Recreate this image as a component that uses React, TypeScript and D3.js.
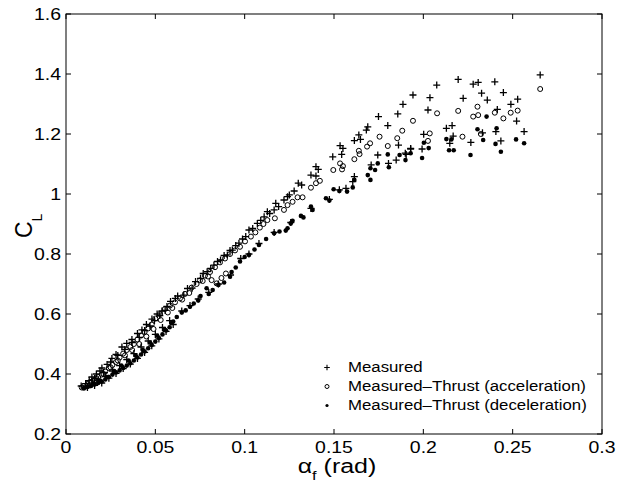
import * as d3 from 'd3';

// alpha_f (rad), C_L
const measured: [number, number][] = [
  [0.0085, 0.36], [0.011, 0.368], [0.013, 0.378], [0.0145, 0.39], [0.017, 0.4],
  [0.019, 0.41], [0.0201, 0.42], [0.023, 0.432], [0.0257, 0.452], [0.028, 0.465],
  [0.0313, 0.49], [0.034, 0.502], [0.0369, 0.515], [0.04, 0.535], [0.0425, 0.547],
  [0.045, 0.565], [0.0481, 0.583], [0.051, 0.6], [0.0537, 0.61], [0.0565, 0.625],
  [0.0612, 0.652], [0.0659, 0.663], [0.0706, 0.686], [0.0753, 0.719], [0.079, 0.741],
  [0.0828, 0.763], [0.0865, 0.78], [0.0903, 0.797], [0.0931, 0.813], [0.0968, 0.836],
  [0.1006, 0.858], [0.1024, 0.88], [0.1071, 0.902], [0.1109, 0.924], [0.1127, 0.941],
  [0.1165, 0.947], [0.1174, 0.969], [0.122, 0.98], [0.124, 0.991], [0.125, 0.997],
  [0.0585, 0.642], [0.0625, 0.66], [0.068, 0.685], [0.0725, 0.708], [0.0768, 0.735],
  [0.081, 0.752], [0.0848, 0.775], [0.0885, 0.795], [0.0918, 0.812], [0.095, 0.828],
  [0.0988, 0.85], [0.1045, 0.885], [0.109, 0.912], [0.114, 0.935], [0.119, 0.958],
  [0.1277, 1.01], [0.13, 1.036], [0.1319, 1.03], [0.1371, 1.063], [0.1399, 1.06],
  [0.1399, 1.091], [0.1412, 1.082], [0.1493, 1.124], [0.1543, 1.132], [0.1534, 1.161],
  [0.155, 1.152], [0.1614, 1.178], [0.1648, 1.182], [0.1639, 1.197], [0.1681, 1.213],
  [0.1689, 1.224], [0.1749, 1.258], [0.1801, 1.228], [0.1857, 1.267],
  [0.1861, 1.163], [0.1745, 1.13], [0.1929, 1.15], [0.1899, 1.136], [0.1848, 1.113],
  [0.1805, 1.102], [0.1708, 1.097], [0.1614, 1.058], [0.1605, 1.041], [0.1567, 1.019],
  [0.2654, 1.397], [0.2195, 1.382], [0.2307, 1.372], [0.2279, 1.366], [0.24, 1.374],
  [0.2075, 1.363], [0.1942, 1.33], [0.2326, 1.336], [0.2448, 1.338], [0.2037, 1.321],
  [0.2223, 1.319], [0.2358, 1.313], [0.1886, 1.299], [0.2528, 1.316], [0.249, 1.299],
  [0.2026, 1.28], [0.2414, 1.282], [0.2522, 1.243], [0.2129, 1.219], [0.2161, 1.228],
  [0.2002, 1.199], [0.2564, 1.208], [0.2167, 1.193], [0.2331, 1.204], [0.2406, 1.208],
  [0.2266, 1.172], [0.2434, 1.177], [0.2148, 1.169], [0.1929, 1.152], [0.1993, 1.15],
  [0.1904, 1.132],
  [0.012, 0.355], [0.016, 0.362], [0.02, 0.37], [0.024, 0.386], [0.028, 0.402],
  [0.032, 0.418], [0.036, 0.433], [0.04, 0.452], [0.044, 0.472], [0.048, 0.494],
  [0.052, 0.517], [0.056, 0.542], [0.06, 0.565], [0.0648, 0.61], [0.0694, 0.628],
  [0.074, 0.65], [0.0799, 0.672], [0.0853, 0.7], [0.0921, 0.73], [0.0978, 0.785],
  [0.1024, 0.8], [0.108, 0.835], [0.1165, 0.872], [0.1258, 0.905], [0.1371, 0.952],
  [0.1474, 0.982], [0.153, 1.014],
  [0.015, 0.37], [0.018, 0.38], [0.022, 0.392], [0.026, 0.41], [0.03, 0.428],
  [0.034, 0.448], [0.038, 0.468], [0.042, 0.49], [0.046, 0.51], [0.05, 0.532],
  [0.054, 0.555], [0.058, 0.578],
  [0.016, 0.385], [0.021, 0.405], [0.025, 0.44], [0.029, 0.462], [0.033, 0.482],
  [0.037, 0.505], [0.041, 0.522], [0.044, 0.545], [0.047, 0.56], [0.0495, 0.578],
  [0.0525, 0.595], [0.0555, 0.612],
];

const acceleration: [number, number][] = [
  [0.0088, 0.355], [0.01, 0.36], [0.012, 0.366], [0.014, 0.374], [0.016, 0.38],
  [0.018, 0.39], [0.02, 0.398], [0.022, 0.408], [0.024, 0.42], [0.026, 0.43],
  [0.028, 0.44], [0.03, 0.455], [0.032, 0.468], [0.034, 0.48], [0.036, 0.49],
  [0.038, 0.5], [0.04, 0.515], [0.042, 0.528], [0.044, 0.54], [0.046, 0.552],
  [0.048, 0.565], [0.05, 0.585], [0.0526, 0.6], [0.0554, 0.617], [0.0582, 0.628],
  [0.061, 0.639], [0.0638, 0.652], [0.0666, 0.667], [0.0703, 0.688], [0.0731, 0.7],
  [0.075, 0.712], [0.0778, 0.728], [0.0806, 0.74], [0.0834, 0.756], [0.0862, 0.772],
  [0.089, 0.785], [0.0918, 0.8], [0.0946, 0.812], [0.0974, 0.824], [0.1002, 0.842],
  [0.0815, 0.713], [0.0843, 0.702], [0.087, 0.72], [0.0895, 0.735],
  [0.013, 0.372], [0.017, 0.386], [0.021, 0.4], [0.025, 0.422], [0.029, 0.445],
  [0.033, 0.462], [0.037, 0.48], [0.041, 0.5], [0.045, 0.525], [0.049, 0.55],
  [0.053, 0.58], [0.057, 0.605], [0.0595, 0.62], [0.065, 0.648], [0.069, 0.67],
  [0.0765, 0.71], [0.0795, 0.725],
  [0.1035, 0.858], [0.106, 0.872], [0.1085, 0.888], [0.1105, 0.9],
  [0.1127, 0.913], [0.1169, 0.919], [0.122, 0.947], [0.124, 0.963], [0.1268, 0.974],
  [0.1296, 0.989], [0.1324, 0.989], [0.1371, 1.021], [0.1399, 1.036], [0.1421, 1.044],
  [0.1496, 1.08], [0.1545, 1.082], [0.155, 1.093], [0.1534, 1.102], [0.1614, 1.116],
  [0.1643, 1.133], [0.1639, 1.144], [0.1685, 1.158], [0.1702, 1.169], [0.1801, 1.16],
  [0.1755, 1.191], [0.1854, 1.186], [0.1882, 1.211], [0.1942, 1.244],
  [0.2654, 1.35], [0.2077, 1.269], [0.2195, 1.277], [0.2303, 1.291], [0.2279, 1.258],
  [0.2307, 1.263], [0.24, 1.271], [0.2489, 1.271], [0.2528, 1.278], [0.2448, 1.252],
  [0.2036, 1.202], [0.2219, 1.191], [0.2322, 1.2], [0.2026, 1.177],
];

const deceleration: [number, number][] = [
  [0.01, 0.352], [0.012, 0.357], [0.014, 0.36], [0.016, 0.365], [0.018, 0.37],
  [0.02, 0.375], [0.022, 0.382], [0.024, 0.39], [0.026, 0.398], [0.028, 0.405],
  [0.03, 0.412], [0.032, 0.42], [0.034, 0.428], [0.036, 0.436], [0.038, 0.445],
  [0.04, 0.455], [0.042, 0.465], [0.044, 0.475], [0.046, 0.486], [0.048, 0.497],
  [0.05, 0.508], [0.052, 0.52], [0.054, 0.532], [0.056, 0.545], [0.058, 0.556],
  [0.011, 0.356], [0.015, 0.366], [0.019, 0.378], [0.023, 0.39], [0.027, 0.41],
  [0.031, 0.428], [0.035, 0.445], [0.039, 0.462], [0.043, 0.48], [0.047, 0.505],
  [0.051, 0.528], [0.055, 0.55], [0.059, 0.57], [0.062, 0.59], [0.067, 0.612],
  [0.0715, 0.635],
  [0.06, 0.575], [0.0648, 0.605], [0.0694, 0.624], [0.074, 0.645], [0.0753, 0.66],
  [0.0799, 0.667], [0.0787, 0.686], [0.0853, 0.697], [0.0821, 0.68], [0.0885, 0.705],
  [0.0918, 0.724], [0.0927, 0.74], [0.095, 0.755], [0.0974, 0.775], [0.1, 0.79],
  [0.1024, 0.797], [0.1055, 0.815], [0.108, 0.83], [0.112, 0.85], [0.1165, 0.869],
  [0.1195, 0.875], [0.123, 0.878], [0.1258, 0.902],
  [0.124, 0.886], [0.1268, 0.911], [0.1315, 0.927], [0.1329, 0.922], [0.1371, 0.958],
  [0.138, 0.947], [0.1455, 0.986], [0.1474, 0.978], [0.1498, 1.016], [0.153, 1.01],
  [0.1573, 1.008], [0.1605, 1.022], [0.1614, 1.047], [0.1689, 1.063], [0.1704, 1.047],
  [0.1704, 1.086], [0.173, 1.08], [0.1745, 1.102], [0.1807, 1.089], [0.1801, 1.132],
  [0.1867, 1.13], [0.1929, 1.136], [0.19, 1.113],
  [0.2354, 1.258], [0.2303, 1.216], [0.241, 1.219], [0.2129, 1.183], [0.2157, 1.182],
  [0.2335, 1.18], [0.2519, 1.182], [0.2564, 1.169], [0.2404, 1.167], [0.2003, 1.171],
  [0.203, 1.153], [0.2144, 1.146], [0.217, 1.146], [0.2434, 1.141], [0.2264, 1.13],
  [0.1993, 1.12],
];

const xTicks = [0, 0.05, 0.1, 0.15, 0.2, 0.25, 0.3];
const yTicks = [0.2, 0.4, 0.6, 0.8, 1, 1.2, 1.4, 1.6];
const legendLabels = [
  'Measured',
  'Measured\u2013Thrust (acceleration)',
  'Measured\u2013Thrust (deceleration)',
];

const font = 'Liberation Sans, Arial, Helvetica, sans-serif';

function Plus({ cx, cy, s = 3.5, w = 1.3 }: { cx: number; cy: number; s?: number; w?: number }) {
  return (
    <path
      d={`M${cx - s},${cy}H${cx + s}M${cx},${cy - s}V${cy + s}`}
      stroke="#000"
      strokeWidth={w}
      fill="none"
    />
  );
}

export default function App({
  width = 622,
  height = 484,
  marginTop = 14,
  marginRight = 20,
  marginBottom = 50,
  marginLeft = 66,
}) {
  const x = d3.scaleLinear([0, 0.3], [marginLeft, width - marginRight]);
  const y = d3.scaleLinear([0.2, 1.6], [height - marginBottom, marginTop]);
  const fmt = d3.format('~g');
  const x0 = x(0), x1 = x(0.3), y0 = y(0.2), y1 = y(1.6);
  const tick = 5;

  return (
    <svg
      width={width}
      height={height}
      style={{ position: 'absolute', left: 0, top: 0, background: '#fff' }}
      fontFamily={font}
    >
      {/* data */}
      <g>
        {acceleration.map((d, i) => (
          <circle key={i} cx={x(d[0])} cy={y(d[1])} r={2.5} fill="none" stroke="#000" strokeWidth={1} />
        ))}
      </g>
      <g>
        {deceleration.map((d, i) => (
          <circle key={i} cx={x(d[0])} cy={y(d[1])} r={2.3} fill="#000" />
        ))}
      </g>
      <g>
        {measured.map((d, i) => (
          <Plus key={i} cx={x(d[0])} cy={y(d[1])} />
        ))}
      </g>

      {/* box and inward ticks */}
      <rect x={x0} y={y1} width={x1 - x0} height={y0 - y1} fill="none" stroke="#000" strokeWidth={1} />
      <g stroke="#000" strokeWidth={1}>
        {xTicks.map((t, i) => (
          <g key={i}>
            <line x1={x(t)} x2={x(t)} y1={y0} y2={y0 - tick} />
            <line x1={x(t)} x2={x(t)} y1={y1} y2={y1 + tick} />
          </g>
        ))}
        {yTicks.map((t, i) => (
          <g key={i}>
            <line x1={x0} x2={x0 + tick} y1={y(t)} y2={y(t)} />
            <line x1={x1} x2={x1 - tick} y1={y(t)} y2={y(t)} />
          </g>
        ))}
      </g>

      {/* tick labels */}
      <g fontSize={16.5} fill="#000">
        {xTicks.map((t, i) => (
          <text key={i} transform={`translate(${x(t)},${y0 + 19}) scale(1.18,1)`} textAnchor="middle">
            {fmt(t)}
          </text>
        ))}
        {yTicks.map((t, i) => (
          <text key={i} transform={`translate(${x0 - 5},${y(t) + 6}) scale(1.18,1)`} textAnchor="end">
            {fmt(t)}
          </text>
        ))}
      </g>

      {/* axis labels */}
      <text transform={`translate(${(x0 + x1) / 2 + 3},473) scale(1.25,1)`} textAnchor="middle" fontSize={20}>
        α<tspan fontSize={13} dy={7}>f</tspan>
        <tspan dy={-7}> (rad)</tspan>
      </text>
      <text transform={`translate(32,238) rotate(-90)`} fontSize={23}>
        C<tspan fontSize={14} dy={10}>L</tspan>
      </text>

      {/* legend */}
      <g fontSize={15}>
        {legendLabels.map((label, i) => {
          const by = 372 + i * 19;
          const mx = 327;
          const my = by - 4.5;
          return (
            <g key={i}>
              {i === 0 && <Plus cx={mx} cy={my} s={2.8} w={1.1} />}
              {i === 1 && <circle cx={mx} cy={my} r={2} fill="none" stroke="#000" strokeWidth={1} />}
              {i === 2 && <circle cx={mx} cy={my} r={1.6} fill="#000" />}
              <text transform={`translate(348,${by}) scale(1.12,1)`}>{label}</text>
            </g>
          );
        })}
      </g>
    </svg>
  );
}
